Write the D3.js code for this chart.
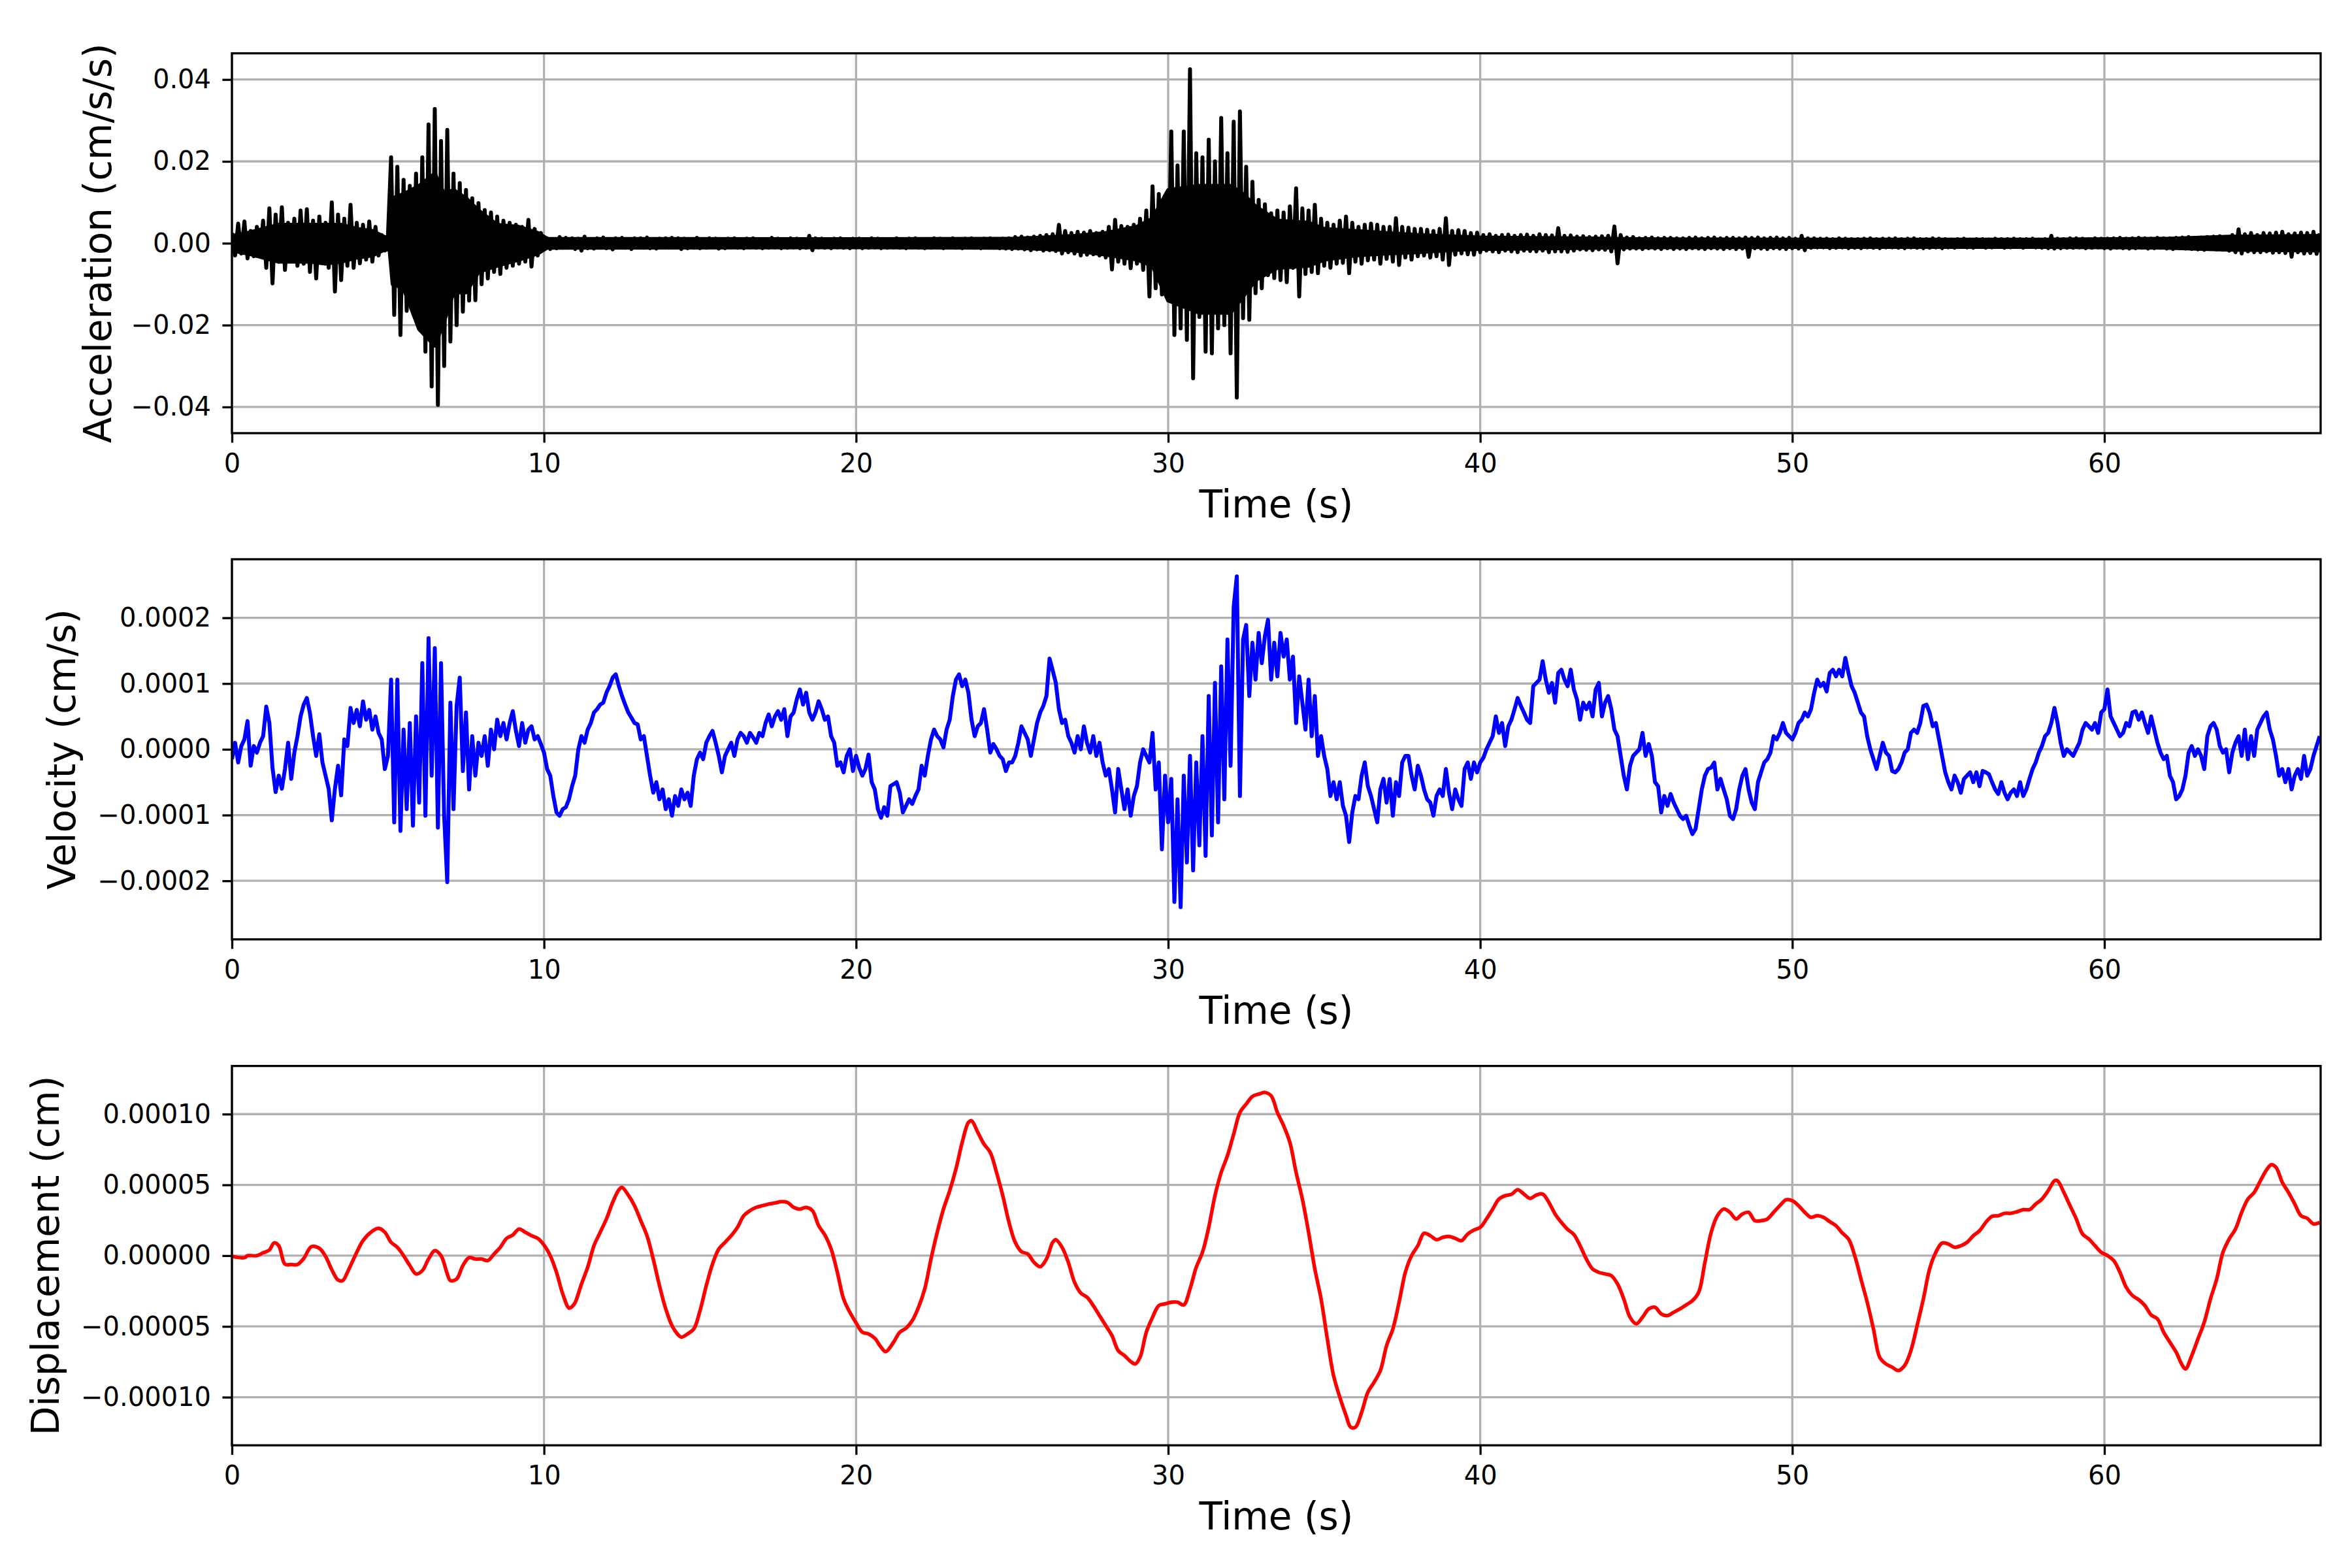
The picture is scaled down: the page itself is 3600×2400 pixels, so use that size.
<!DOCTYPE html>
<html>
<head>
<meta charset="utf-8">
<script src="https://cdn.jsdelivr.net/npm/d3@7"></script>
<style>
html,body{margin:0;padding:0;background:#ffffff;}
svg{display:block;}
</style>
</head>
<body>
<svg id="chart" width="3600" height="2400"></svg>
<script>
// ---------------- DATA ----------------
const SAMPLE_STEP = 0.1;          // s, spacing of the acceleration and velocity samples
const TIME_MAX = 66.93;           // s, end of the record
const timeTicks = [0, 10, 20, 30, 40, 50, 60];

// Acceleration, in units of 1e-4 cm/s/s, one value per 0.1 s (swing extremes)
const ACC_UNIT = 1e-4;
const accelValues = [
 25,-30,48,-25,53,-37,30,-32,40,-28,
 55,-60,85,-98,70,-45,88,-65,50,-40,
 60,-55,80,-50,83,-70,55,-86,65,-45,
 50,-60,100,-118,70,-90,60,-55,94,-60,
 50,-49,45,-40,53,-45,40,-30,20,-18,
 20,210,-175,187,-224,155,-165,140,-150,170,
 -200,210,-265,290,-350,328,-395,250,-300,277,
 -240,170,-200,147,-167,130,-140,110,-139,98,
 -100,81,-86,75,-70,65,-75,55,-60,50,
 -55,45,-50,40,-45,57,-57,35,-30,25,
 -15,12,-14,10,-12,15,-11,13,-10,12,
 -14,11,-18,16,-12,10,-13,12,-11,14,
 -12,10,-15,12,-10,13,-11,10,-14,12,
 -10,12,-11,14,-12,10,-13,11,-10,12,
 -11,13,-10,12,-14,11,-12,10,-11,13,
 -12,10,-11,12,-10,11,-13,10,-12,11,
 -10,12,-11,10,-12,11,-10,12,-11,10,
 -12,10,-11,13,-10,11,-12,10,-11,12,
 -10,11,-12,10,-11,18,-17,12,-10,11,
 -11,10,-12,11,-10,12,-11,10,-12,11,
 -10,11,-12,10,-11,12,-10,11,-12,10,
 -11,10,-10,12,-11,10,-12,11,-10,12,
 -11,10,-12,10,-11,12,-10,11,-12,10,
 -10,12,-11,10,-12,11,-10,12,-11,10,
 -12,11,-10,12,-11,10,-12,11,-13,12,
 -14,15,-13,16,-15,14,-17,16,-15,18,
 -18,20,-17,22,-19,45,-25,30,-22,25,
 -25,28,-30,26,-28,30,-27,25,-30,28,
 -35,40,-64,57,-45,42,-50,40,-61,45,
 -50,60,-65,80,-130,139,-110,120,-125,115,
 -130,273,-224,190,-208,273,-236,425,-330,220,
 -180,210,-265,253,-269,200,-208,306,-200,220,
 -269,297,-377,322,-183,187,-187,150,-122,106,
 -110,95,-78,73,-85,80,-90,75,-95,90,
 -60,134,-130,85,-75,80,-70,94,-73,60,
 -55,50,-60,45,-50,55,-48,65,-73,50,
 -45,40,-50,45,-42,48,-40,45,-50,40,
 -38,40,-45,61,-53,40,-35,38,-40,35,
 -32,35,-30,33,-35,30,-32,35,-40,61,
 -53,30,-28,32,-25,30,-27,25,-28,26,
 -22,20,-18,22,-20,18,-22,20,-18,21,
 -20,18,-22,20,-18,21,-19,18,-20,22,
 -18,20,-22,19,-20,37,-20,18,-21,19,
 -18,16,-15,17,-16,15,-17,16,-15,17,
 -16,18,-20,41,-49,20,-15,14,-13,15,
 -13,12,-14,13,-12,14,-13,12,-14,13,
 -12,13,-14,12,-13,12,-14,13,-12,14,
 -13,12,-14,13,-12,14,-13,12,-14,13,
 -12,13,-14,12,-13,14,-33,13,-12,14,
 -13,12,-14,13,-12,14,-13,12,-14,13,
 -12,11,-13,18,-17,12,-11,12,-10,11,
 -10,11,-12,10,-11,12,-10,11,-12,10,
 -11,10,-12,11,-10,12,-11,10,-12,11,
 -10,11,-10,12,-11,10,-12,11,-10,12,
 -11,10,-12,10,-11,12,-10,11,-12,10,
 -10,9,-11,10,-9,11,-10,9,-11,10,
 -9,10,-11,9,-10,11,-9,10,-11,10,
 -10,11,-9,10,-11,10,-9,11,-10,9,
 -11,10,-12,18,-13,11,-12,10,-11,12,
 -11,12,-10,11,-12,10,-11,12,-10,11,
 -12,11,-13,12,-11,13,-12,11,-13,12,
 -12,13,-11,12,-13,11,-12,13,-11,12,
 -13,12,-14,13,-12,14,-13,15,-14,13,
 -15,14,-16,15,-14,16,-15,17,-16,15,
 -18,20,-22,34,-25,22,-20,25,-22,20,
 -22,25,-20,24,-23,26,-22,28,-24,22,
 -33,24,-22,26,-25,25,-24,28,-26,24
];

// Extent of the solid (densely over-plotted) core of the acceleration trace, 1e-4 cm/s/s
const accCoreTimes = [0,0.5,1.0,1.5,2.0,2.5,3.0,3.5,4.0,4.5,4.9,5.05,5.15,5.5,6.0,6.5,6.8,7.1,7.5,7.9,
 8.5,9.2,9.8,10.1,20,25,26,27,28,29.0,29.5,30.0,31.0,32.0,32.4,32.8,33.5,34.5,35,36,
 37,38,39,40,43,45,50,58,62,64,66.93];
const accCoreUpper = [18,25,35,45,45,45,45,45,35,30,15,15,110,120,140,170,120,130,110,80,
 45,40,25,11,10,11,14,18,25,40,60,130,140,140,120,90,55,50,35,30,
 25,20,17,14,12,10,9,9,11,16,18];
const accCoreLower = [-18,-25,-35,-45,-45,-45,-50,-45,-35,-30,-15,-15,-100,-110,-210,-250,-190,-120,-120,-70,
 -55,-40,-25,-11,-10,-11,-14,-18,-28,-40,-55,-140,-170,-170,-130,-90,-60,-55,-40,-30,
 -25,-22,-17,-14,-12,-10,-9,-9,-11,-16,-18];

// Velocity, in units of 1e-6 cm/s, one value per 0.1 s
const VEL_UNIT = 1e-6;
const velocityValues = [
 -15,10,-20,5,15,43,-25,5,-5,10,
 20,65,40,-28,-65,-40,-60,-30,10,-45,
 -5,20,50,68,78,55,20,-10,23,-20,
 -40,-60,-108,-60,-25,-70,15,5,63,40,
 60,35,73,45,60,30,50,25,15,-30,
 -10,106,-111,106,-124,30,-91,40,-116,50,
 -81,131,-101,169,-40,154,-119,131,-101,-202,
 71,-91,66,109,-33,56,-61,20,-40,10,
 -10,20,-25,30,0,45,20,40,15,40,
 58,28,5,40,10,30,35,15,20,8,
 -5,-30,-40,-71,-96,-101,-91,-88,-76,-56,
 -40,0,20,10,30,40,56,61,68,71,
 86,96,109,114,96,81,68,56,48,40,
 38,15,20,-10,-40,-66,-50,-76,-61,-91,
 -76,-101,-71,-86,-61,-76,-66,-86,-40,-15,
 -5,-15,10,20,28,10,-10,-35,-10,0,
 10,-10,15,25,20,10,25,18,10,25,
 20,40,53,35,50,58,45,61,20,50,
 56,76,91,68,86,56,45,56,73,61,
 45,50,20,10,-25,-20,-35,-10,0,-33,
 -10,-28,-40,-30,-8,-50,-61,-91,-104,-88,
 -101,-56,-53,-50,-66,-96,-86,-76,-83,-71,
 -61,-25,-40,-10,15,30,20,15,3,30,
 45,81,106,114,96,106,86,45,20,35,
 40,61,30,-5,8,0,-10,-15,-33,-20,
 -20,-10,10,35,25,15,-10,15,40,56,
 66,81,138,120,101,61,40,45,20,10,
 -5,20,0,35,10,-5,20,-10,10,-20,
 -40,-30,-61,-96,-30,-61,-91,-61,-101,-71,
 -56,-20,0,-10,-20,25,-61,-20,-152,-40,
 -111,-45,-232,-76,-240,-40,-172,-10,-184,-20,
 -146,20,-162,81,-131,101,-111,126,-76,167,
 -25,217,263,-71,167,189,81,162,106,177,
 131,172,197,106,162,111,177,141,167,106,
 141,40,111,71,30,106,20,81,-10,20,
 -10,-30,-71,-50,-76,-50,-86,-101,-141,-96,
 -71,-76,-40,-20,-56,-71,-91,-111,-61,-45,
 -81,-45,-101,-50,-71,-20,-10,-10,-40,-61,
 -25,-40,-61,-76,-81,-101,-71,-61,-71,-30,
 -66,-91,-61,-76,-86,-30,-20,-45,-20,-35,
 -20,-13,0,10,20,50,25,40,5,35,
 45,61,78,66,56,45,40,96,101,106,
 134,106,86,101,71,116,121,106,96,121,
 91,76,45,71,61,71,50,91,101,50,
 71,81,61,30,20,-10,-40,-61,-25,-10,
 -5,0,25,-10,8,-10,-50,-56,-96,-71,
 -86,-68,-81,-91,-101,-106,-101,-116,-129,-121,
 -91,-61,-40,-30,-28,-20,-61,-45,-61,-76,
 -101,-106,-91,-61,-40,-30,-61,-81,-91,-50,
 -35,-20,-15,-5,20,15,25,40,25,20,
 15,25,40,45,56,50,61,86,106,96,
 101,88,116,121,111,121,111,139,116,96,
 86,71,56,50,20,0,-15,-30,-10,10,
 -5,-10,-33,-35,-30,-20,-5,0,25,30,
 25,40,66,68,56,35,40,15,-10,-35,
 -50,-61,-40,-50,-66,-45,-40,-35,-50,-35,
 -56,-33,-35,-38,-50,-61,-68,-50,-66,-76,
 -66,-61,-71,-50,-71,-61,-45,-30,-20,-5,
 5,20,25,40,63,40,10,-10,0,-5,
 -10,0,10,30,40,35,30,40,25,56,
 61,91,50,40,30,20,25,40,35,56,
 58,45,56,40,25,50,30,10,-5,-15,
 -10,-40,-50,-76,-71,-61,-40,-5,5,-10,
 0,-10,-30,20,35,40,30,5,-5,0,
 -35,-5,10,20,-10,30,-15,20,-10,30,
 40,50,56,30,15,-10,-40,-30,-50,-30,
 -61,-40,-30,-45,-10,-40,-30,-10,5,20
];

// Displacement, in units of 1e-5 cm, at the listed times (s)
const DISP_UNIT = 1e-5;
const dispTimes = [
 0,0.4,0.5,0.8,1.0,1.2,1.35,1.5,1.7,1.9,2.1,2.3,2.55,2.8,3.0,3.2,3.4,3.55,3.7,4.0,
 4.2,4.45,4.7,4.9,5.1,5.3,5.5,5.7,5.9,6.1,6.3,6.5,6.7,6.9,7.0,7.2,7.4,7.6,7.8,8.0,
 8.2,8.4,8.6,8.8,9.0,9.2,9.4,9.6,9.8,10.0,10.2,10.4,10.6,10.8,10.9,11.0,11.2,11.4,11.6,11.8,
 12.0,12.2,12.4,12.5,12.7,12.9,13.1,13.3,13.5,13.7,13.9,14.1,14.3,14.4,14.6,14.8,15.0,15.2,15.4,15.6,
 15.8,16.0,16.2,16.4,16.6,16.8,17.0,17.2,17.4,17.6,17.8,18.0,18.2,18.4,18.6,18.8,19.0,19.2,19.4,19.6,
 19.8,20.0,20.2,20.4,20.6,20.8,20.95,21.2,21.4,21.6,21.8,22.0,22.2,22.4,22.6,22.8,23.0,23.2,23.4,23.6,
 23.7,23.9,24.1,24.3,24.5,24.7,24.9,25.1,25.3,25.5,25.7,25.9,26.1,26.3,26.4,26.6,26.8,27.0,27.2,27.4,
 27.6,27.8,28.0,28.2,28.4,28.6,28.8,28.95,29.1,29.3,29.5,29.7,29.9,30.1,30.3,30.5,30.7,30.9,31.1,31.3,
 31.5,31.7,31.9,32.1,32.3,32.5,32.7,32.9,33.1,33.3,33.5,33.7,33.9,34.1,34.3,34.5,34.7,34.9,35.1,35.3,
 35.5,35.7,35.85,36.0,36.2,36.4,36.6,36.8,37.0,37.2,37.4,37.6,37.8,38.0,38.2,38.4,38.6,38.8,39.0,39.2,
 39.4,39.6,39.8,40.0,40.2,40.4,40.6,40.8,41.0,41.2,41.4,41.6,41.8,42.0,42.2,42.4,42.6,42.8,43.0,43.2,
 43.4,43.6,43.8,44.0,44.2,44.4,44.6,44.8,45.0,45.2,45.4,45.6,45.8,46.0,46.2,46.4,46.6,46.8,47.0,47.2,
 47.4,47.6,47.8,48.0,48.2,48.4,48.6,48.8,49.0,49.2,49.4,49.6,49.8,50.0,50.2,50.4,50.6,50.8,51.0,51.2,
 51.4,51.6,51.8,52.0,52.2,52.4,52.6,52.8,53.0,53.2,53.4,53.6,53.8,54.0,54.2,54.4,54.6,54.8,55.0,55.2,
 55.4,55.6,55.8,56.0,56.2,56.4,56.6,56.8,57.0,57.2,57.4,57.6,57.8,58.0,58.2,58.4,58.5,58.7,58.9,59.1,
 59.3,59.5,59.7,59.9,60.1,60.3,60.5,60.7,60.9,61.1,61.3,61.5,61.7,61.9,62.1,62.3,62.5,62.6,62.8,63.0,
 63.2,63.4,63.6,63.8,64.0,64.2,64.4,64.6,64.8,65.0,65.2,65.35,65.5,65.7,65.9,66.1,66.3,66.5,66.7,66.9
];
const dispValues = [
 -0.05,-0.14,0,0,0.2,0.4,0.9,0.7,-0.6,-0.63,-0.63,-0.2,0.64,0.52,-0.05,-1.0,-1.72,-1.76,-1.18,0.24,
 1.06,1.65,1.93,1.65,0.94,0.59,0,-0.7,-1.29,-1.06,-0.24,0.35,0,-1.29,-1.76,-1.65,-0.7,-0.14,-0.24,-0.24,
 -0.35,0.12,0.59,1.22,1.46,1.88,1.65,1.41,1.22,0.75,0,-1.18,-2.7,-3.7,-3.6,-3.3,-2.0,-0.82,0.7,1.65,
 2.59,3.76,4.66,4.82,4.28,3.53,2.47,1.41,-0.24,-2.12,-3.76,-4.94,-5.6,-5.76,-5.53,-5.18,-3.88,-2.12,-0.59,0.47,
 0.94,1.41,2.0,2.82,3.18,3.41,3.53,3.65,3.72,3.81,3.76,3.41,3.29,3.41,3.18,2.12,1.46,0.47,-1.18,-3.06,
 -4.0,-4.75,-5.41,-5.53,-5.84,-6.47,-6.78,-6.12,-5.41,-5.13,-4.59,-3.65,-2.35,-0.24,1.65,3.29,4.59,6.12,8.0,9.41,
 9.53,8.71,7.88,7.29,5.88,4.24,2.35,0.94,0.28,0.12,-0.47,-0.78,-0.24,0.94,1.13,0.59,-0.47,-1.88,-2.64,-2.94,
 -3.53,-4.24,-4.94,-5.65,-6.71,-7.06,-7.48,-7.65,-7.18,-5.41,-4.35,-3.53,-3.41,-3.29,-3.29,-3.48,-2.35,-0.82,0.24,2.0,
 4.24,5.88,7.06,8.59,10.12,10.71,11.25,11.41,11.53,11.29,10.12,9.18,8.0,5.88,4.0,1.65,-0.94,-3.06,-5.88,-8.47,
 -10.0,-11.29,-12.12,-12.12,-11.06,-9.65,-8.94,-8.12,-6.35,-5.18,-3.29,-1.18,0,0.7,1.58,1.41,1.13,1.29,1.36,1.22,
 1.06,1.53,1.81,2.0,2.59,3.29,4.0,4.24,4.33,4.66,4.35,4.05,4.28,4.35,3.76,2.94,2.35,1.85,1.5,0.7,
 -0.24,-0.94,-1.18,-1.29,-1.41,-2.0,-3.06,-4.35,-4.82,-4.35,-3.76,-3.65,-4.12,-4.24,-4.0,-3.76,-3.48,-3.18,-2.59,-0.47,
 1.65,2.82,3.29,3.06,2.59,2.94,3.06,2.47,2.47,2.59,3.06,3.53,3.95,3.88,3.53,3.06,2.71,2.82,2.71,2.4,
 2.12,1.6,1.18,0,-1.65,-3.29,-5.18,-7.18,-7.65,-7.88,-8.12,-7.76,-6.71,-4.94,-3.06,-0.94,0.24,0.89,0.82,0.59,
 0.7,0.94,1.41,1.76,2.35,2.78,2.82,2.99,2.99,3.1,3.25,3.25,3.65,4.0,4.59,5.29,5.29,4.47,3.53,2.59,
 1.53,1.18,0.7,0.24,0,-0.35,-1.18,-2.24,-2.82,-3.11,-3.53,-4.19,-4.47,-5.41,-6.12,-6.82,-7.76,-8.0,-7.06,-5.88,
 -4.71,-3.06,-1.65,0.24,1.18,1.88,3.06,4.0,4.47,5.29,6.07,6.42,6.24,5.18,4.47,3.65,2.82,2.64,2.24,2.35
];

const accTicks = [-0.04, -0.02, 0, 0.02, 0.04];
const velTicks = [-0.0002, -0.0001, 0, 0.0001, 0.0002];
const dispTicks = [-0.0001, -0.00005, 0, 0.00005, 0.0001];

// ---------------- LAYOUT ----------------
const FONT = "'DejaVu Sans', 'Liberation Sans', sans-serif";
const LEFT = 355, RIGHT = 3552;
const TICK_LEN = 14.6, LW_AXIS = 3.3;

const panels = [
  {label: "Acceleration (cm/s/s)", color: "#000000", top: 81.6, bottom: 663,
   domain: [-0.0464, 0.0464], ticks: accTicks, fmt: d3.format(".2f"), labelX: 170,
   points: accelValues.map((v, i) => [i * SAMPLE_STEP, v * ACC_UNIT]), curve: d3.curveLinear, lw: 6,
   core: accCoreTimes.map((t, i) => [t, accCoreLower[i] * ACC_UNIT, accCoreUpper[i] * ACC_UNIT])},
  {label: "Velocity (cm/s)", color: "#0000ff", top: 856, bottom: 1437.8,
   domain: [-0.000289, 0.000289], ticks: velTicks, fmt: d3.format(".4f"), labelX: 115,
   points: velocityValues.map((v, i) => [i * SAMPLE_STEP, v * VEL_UNIT]), curve: d3.curveLinear, lw: 6, core: null},
  {label: "Displacement (cm)", color: "#ff0000", top: 1631.6, bottom: 2212.2,
   domain: [-0.000134, 0.000134], ticks: dispTicks, fmt: d3.format(".5f"), labelX: 90,
   points: dispValues.map((v, i) => [dispTimes[i], v * DISP_UNIT]), curve: d3.curveCatmullRom.alpha(0.5), lw: 5.5, core: null}
];

const svg = d3.select("#chart");
svg.append("rect").attr("width", 3600).attr("height", 2400).attr("fill", "#ffffff");

const x = d3.scaleLinear().domain([0, TIME_MAX]).range([LEFT, RIGHT]);

panels.forEach((p, k) => {
  const y = d3.scaleLinear().domain(p.domain).range([p.bottom, p.top]);
  const g = svg.append("g");

  const clipId = "clip" + k;
  svg.append("clipPath").attr("id", clipId).append("rect")
    .attr("x", LEFT).attr("y", p.top).attr("width", RIGHT - LEFT).attr("height", p.bottom - p.top);

  // grid
  const grid = g.append("g").attr("stroke", "#b0b0b0").attr("stroke-width", LW_AXIS);
  grid.selectAll("line.v").data(timeTicks).join("line").attr("class", "v")
    .attr("x1", d => x(d)).attr("x2", d => x(d)).attr("y1", p.top).attr("y2", p.bottom);
  grid.selectAll("line.h").data(p.ticks).join("line").attr("class", "h")
    .attr("x1", LEFT).attr("x2", RIGHT).attr("y1", d => y(d)).attr("y2", d => y(d));

  // solid over-plotted core of a dense trace
  if (p.core) {
    const area = d3.area().x(d => x(d[0])).y0(d => y(d[1])).y1(d => y(d[2]));
    g.append("path").datum(p.core)
      .attr("clip-path", `url(#${clipId})`)
      .attr("fill", p.color).attr("stroke", p.color).attr("stroke-width", p.lw)
      .attr("stroke-linejoin", "round").attr("d", area);
  }

  // data line
  const line = d3.line().x(d => x(d[0])).y(d => y(d[1])).curve(p.curve);
  g.append("path").datum(p.points)
    .attr("clip-path", `url(#${clipId})`)
    .attr("fill", "none").attr("stroke", p.color).attr("stroke-width", p.lw)
    .attr("stroke-linejoin", "round").attr("stroke-linecap", "butt")
    .attr("d", line);

  // axes
  const xAxis = d3.axisBottom(x).tickValues(timeTicks).tickFormat(d3.format("d"))
    .tickSize(TICK_LEN).tickPadding(17);
  const gx = g.append("g").attr("transform", `translate(0,${p.bottom})`).call(xAxis);
  const yAxis = d3.axisLeft(y).tickValues(p.ticks).tickFormat(p.fmt)
    .tickSize(TICK_LEN).tickPadding(17.4);
  const gy = g.append("g").attr("transform", `translate(${LEFT},0)`).call(yAxis);
  [gx, gy].forEach(a => {
    a.select(".domain").remove();
    a.selectAll(".tick line").attr("stroke", "#000").attr("stroke-width", LW_AXIS);
    a.selectAll(".tick text").attr("fill", "#000").style("font-family", FONT).style("font-size", "40px");
  });

  // spines
  g.append("rect").attr("x", LEFT).attr("y", p.top).attr("width", RIGHT - LEFT).attr("height", p.bottom - p.top)
    .attr("fill", "none").attr("stroke", "#000").attr("stroke-width", LW_AXIS);

  // labels
  g.append("text").attr("x", (LEFT + RIGHT) / 2).attr("y", p.bottom + 129)
    .attr("text-anchor", "middle").style("font-family", FONT).style("font-size", "58px")
    .attr("fill", "#000").text("Time (s)");
  g.append("text")
    .attr("transform", `translate(${p.labelX},${(p.top + p.bottom) / 2}) rotate(-90)`)
    .attr("text-anchor", "middle").style("font-family", FONT).style("font-size", "58px")
    .attr("fill", "#000").text(p.label);
});
</script>
</body>
</html>
